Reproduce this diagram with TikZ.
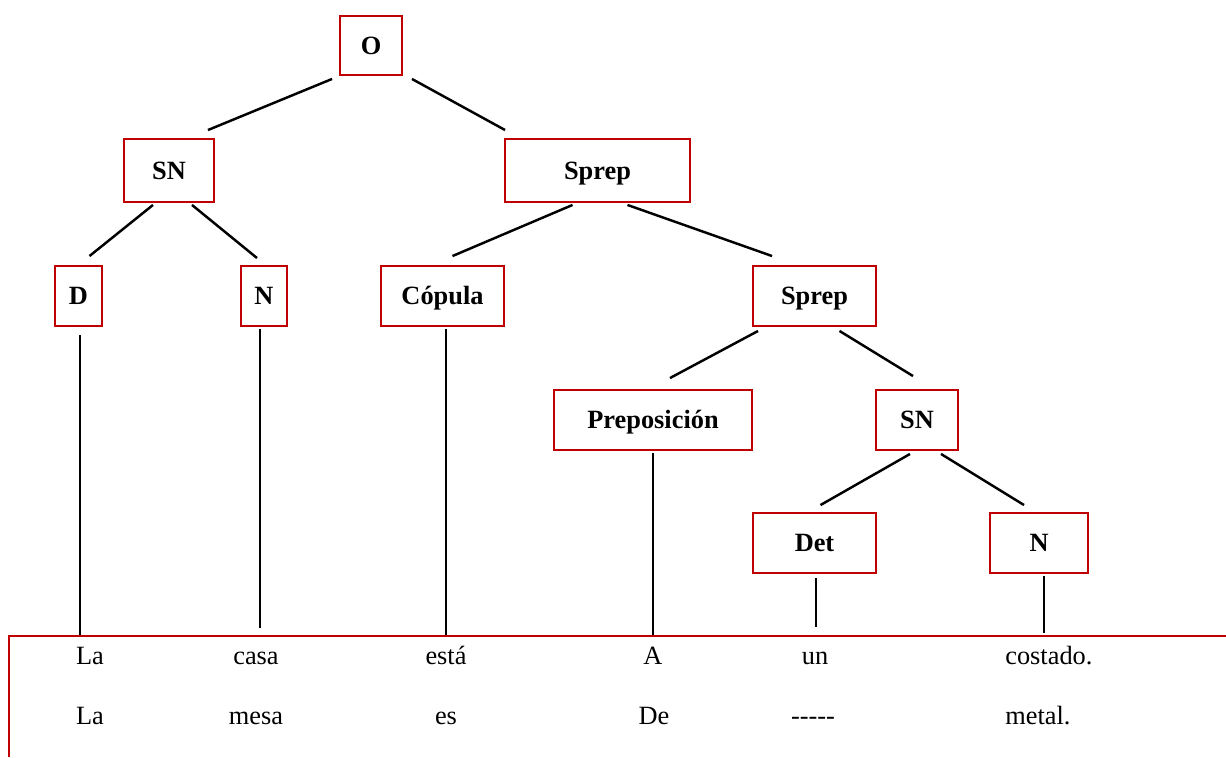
\documentclass[tikz,border=0pt]{standalone}
\usepackage{fontspec}
\setmainfont{Liberation Serif}
\usepackage{xcolor}
\usepackage{tikz}
\definecolor{boxred}{RGB}{192,0,0}

\begin{document}
\begin{tikzpicture}[x=0.02cm, y=-0.02cm,
    cat/.style={rectangle, draw=boxred, line width=1.1pt, inner sep=0pt, minimum height=1.2cm,
        text height=9.9pt, text depth=0pt, font=\fontsize{15}{18}\selectfont\bfseries},
    branch/.style={line width=1.4pt},
    word/.style={anchor=base, inner sep=0pt, font=\fontsize{15}{18}\selectfont}]
    \useasboundingbox (0,0) rectangle (1226,757);

    % tree
    \node (O) [cat, minimum width=1.24cm, minimum height=1.18cm] at (371,45.5) {O};
    \node (SN) [cat, minimum width=1.8cm, minimum height=1.26cm] at (169,170.5) {SN};
    \node (Sprep) [cat, minimum width=3.7cm, minimum height=1.26cm] at (597.5,170.5) {Sprep};
    \node (D) [cat, minimum width=0.94cm] at (78.5,296) {D};
    \node (N) [cat, minimum width=0.92cm] at (264,296) {N};
    \node (copula) [cat, minimum width=2.46cm] at (442.5,296) {Cópula};
    \node (Sprep2) [cat, minimum width=2.46cm] at (814.5,296) {Sprep};
    \node (prep) [cat, minimum width=3.96cm] at (653,420) {Preposición};
    \node (SN2) [cat, minimum width=1.64cm] at (917,420) {SN};
    \node (Det) [cat, minimum width=2.46cm] at (814.5,543) {Det};
    \node (N2) [cat, minimum width=1.96cm] at (1039,543) {N};

    \draw [branch] ([shift={(-7,3)}]O.south west) -- ([shift={(-7,-8)}]SN.north east);
    \draw [branch] ([shift={(9,3)}]O.south east) -- ([shift={(1,-8)}]Sprep.north west);
    \draw [branch] ([shift={(-16,2)}]SN.south) -- ([shift={(11,-9)}]D.north);
    \draw [branch] ([shift={(23,2)}]SN.south) -- ([shift={(-7,-7)}]N.north);
    \draw [branch] ([shift={(-25,2)}]Sprep.south) -- ([shift={(10,-9)}]copula.north);
    \draw [branch] ([shift={(30,2)}]Sprep.south) -- ([shift={(20,-9)}]Sprep2.north west);
    \draw [branch] ([shift={(6,4)}]Sprep2.south west) -- ([shift={(17,-11)}]prep.north);
    \draw [branch] ([shift={(25,4)}]Sprep2.south) -- ([shift={(-4,-13)}]SN2.north);
    \draw [branch] ([shift={(-7,3)}]SN2.south) -- ([shift={(6,-7)}]Det.north);
    \draw [branch] ([shift={(24,3)}]SN2.south) -- ([shift={(-15,-7)}]N2.north);

    % leaves
    \draw [branch] ([shift={(1.5,8)}]D.south) -- +(0,302);
    \draw [branch] ([shift={(-4,2)}]N.south) -- +(0,299);
    \draw [branch] ([shift={(3.5,2)}]copula.south) -- +(0,308);
    \draw [branch] ([shift={(0,2)}]prep.south) -- +(0,184);
    \draw [branch] ([shift={(1.5,4)}]Det.south) -- +(0,49);
    \draw [branch] ([shift={(5,2)}]N2.south) -- +(0,57);

    % sentences
    \coordinate (frame) at (9,636);
    \draw [boxred, line width=1.1pt] (frame |- 0,757) -- (frame) -- (1226,636);

    \node (la1) [word] at (90,664) {La};
    \node (casa) [word] at (256,664) {casa};
    \node (esta) [word] at (446,664) {está};
    \node (a) [word] at (653,664) {A};
    \node (un) [word] at (815,664) {un};
    \node (costado) [word, anchor=base west] at (1005,664) {costado.};

    \node (la2) [word] at (90,724) {La};
    \node (mesa) [word] at (256,724) {mesa};
    \node (es) [word] at (446,724) {es};
    \node (de) [word] at (654,724) {De};
    \node (dash) [word] at (813,724) {-{}-{}-{}-{}-};
    \node (metal) [word, anchor=base west] at (1005,724) {metal.};
\end{tikzpicture}
\end{document}
